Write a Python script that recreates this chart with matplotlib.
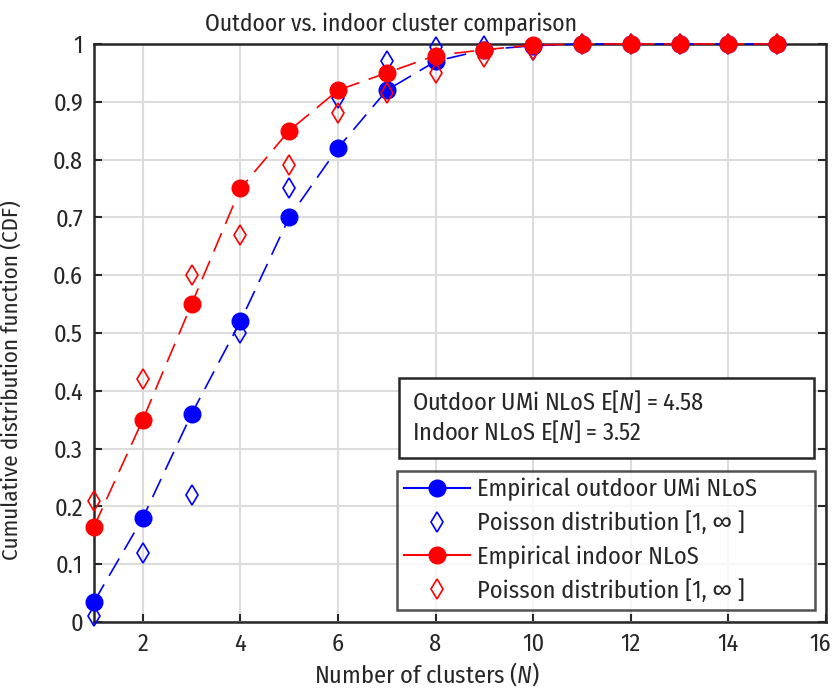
import matplotlib
matplotlib.use('Agg')
import matplotlib.pyplot as plt
import matplotlib.transforms as mtransforms
from matplotlib.lines import Line2D
from matplotlib.patches import Rectangle
from matplotlib import font_manager

# narrow sans, first one found
names = {f.name for f in font_manager.fontManager.ttflist}
candidates = ['Fira Sans Condensed', 'Roboto Condensed', 'Encode Sans Condensed',
              'PT Sans Narrow', 'Archivo Narrow', 'Liberation Sans Narrow', 'Liberation Sans']
fam = next(c for c in candidates if c in names)
plt.rcParams['font.family'] = [fam, 'DejaVu Sans']
plt.rcParams['mathtext.fontset'] = 'custom'
plt.rcParams['mathtext.it'] = fam + ':italic'
plt.rcParams['mathtext.rm'] = fam

n_clusters = list(range(1, 16))
outdoor_emp = [0.035, 0.18, 0.36, 0.52, 0.70, 0.82, 0.92, 0.97, 0.99, 0.997, 1, 1, 1, 1, 1]
outdoor_poi = [0.01, 0.12, 0.22, 0.50, 0.75, 0.907, 0.97, 0.995, 0.997, 0.99, 1, 1, 1, 1, 1]
indoor_emp = [0.165, 0.35, 0.55, 0.75, 0.85, 0.92, 0.95, 0.98, 0.99, 0.998, 1, 1, 1, 1, 1]
indoor_poi = [0.21, 0.42, 0.60, 0.67, 0.79, 0.88, 0.915, 0.95, 0.978, 0.99, 1, 1, 1, 1, 1]

x_ticks = [2, 4, 6, 8, 10, 12, 14, 16]
y_ticks = [0, 0.1, 0.2, 0.3, 0.4, 0.5, 0.6, 0.7, 0.8, 0.9, 1]
y_labels = ['0', '0.1', '0.2', '0.3', '0.4', '0.5', '0.6', '0.7', '0.8', '0.9', '1']

txt = '#262626'
fig = plt.figure(figsize=(8.35, 6.91), dpi=100)
ax = fig.add_axes([0.1126, 0.0999, 0.8766, 0.8365])

dash = (0, (12, 6))
ax.plot(n_clusters, outdoor_emp, color='blue', lw=1.2, linestyle=dash,
        marker='o', ms=12, zorder=3, clip_on=False)
ax.plot(n_clusters, outdoor_poi, color='blue', lw=0, marker='d', ms=10.5,
        mfc='none', mew=1.2, zorder=4, clip_on=False)
ax.plot(n_clusters, indoor_emp, color='red', lw=1.2, linestyle=dash,
        marker='o', ms=12, zorder=5, clip_on=False)
ax.plot(n_clusters, indoor_poi, color='red', lw=0, marker='d', ms=10.5,
        mfc='none', mew=1.2, zorder=6, clip_on=False)

ax.set_xlim(1, 16)
ax.set_ylim(0, 1)
ax.set_xticks(x_ticks)
ax.set_yticks(y_ticks)
ax.set_yticklabels(y_labels)
ax.grid(True, color='#dcdcdc', lw=1.5)
ax.set_axisbelow(True)
ax.tick_params(direction='in', length=6, width=1.5, top=True, right=True,
               labelsize=17.5, colors=txt, pad=8)
ax.tick_params(axis='x', top=False)
for s in ax.spines.values():
    s.set_linewidth(1.8)
    s.set_color(txt)

# last x label sits a little left of the tick, like the original
last = ax.get_xticklabels()[-1]
last.set_transform(last.get_transform() +
                   mtransforms.ScaledTranslation(-4 / 72, 0, fig.dpi_scale_trans))

ax.set_title('Outdoor vs. indoor cluster comparison', fontsize=17, color=txt,
             x=0.406, pad=9)
ax.set_xlabel('Number of clusters ($N$)', fontsize=17.5, color=txt)
ax.xaxis.set_label_coords(0.455, -0.066)
ax.set_ylabel('Cumulative distribution function (CDF)', fontsize=16.5, color=txt)
ax.yaxis.set_label_coords(-0.098, 0.419)

handles = [
    Line2D([], [], color='blue', lw=1.5, marker='o', ms=12),
    Line2D([], [], color='blue', lw=0, marker='d', ms=10.5, mfc='none', mew=1.2),
    Line2D([], [], color='red', lw=1.5, marker='o', ms=12),
    Line2D([], [], color='red', lw=0, marker='d', ms=10.5, mfc='none', mew=1.2),
]
labels = ['Empirical outdoor UMi NLoS', 'Poisson distribution [1, \u221e ]',
          'Empirical indoor NLoS', 'Poisson distribution [1, \u221e ]']
leg = ax.legend(handles, labels, loc='lower left', mode='expand',
                bbox_to_anchor=(0.414, 0.021, 0.571, 0.235),
                fontsize=17.5, frameon=True, fancybox=False, edgecolor=txt,
                handlelength=2.7, handletextpad=0.3, labelspacing=0.42,
                borderpad=0.3, borderaxespad=0)
leg.get_frame().set_linewidth(1.8)
for t in leg.get_texts():
    t.set_color(txt)

# annotation box with the mean cluster numbers
ax.add_patch(Rectangle((0.417, 0.284), 0.567, 0.138, transform=ax.transAxes,
                       fc='white', ec=txt, lw=1.8, zorder=7))
ax.text(0.434, 0.355, 'Outdoor UMi NLoS E[$N$] = 4.58\nIndoor NLoS E[$N$] = 3.52',
        transform=ax.transAxes, fontsize=17.5, color=txt, va='center', ha='left',
        linespacing=1.15, zorder=8)

fig.savefig('out.png', dpi=100)
